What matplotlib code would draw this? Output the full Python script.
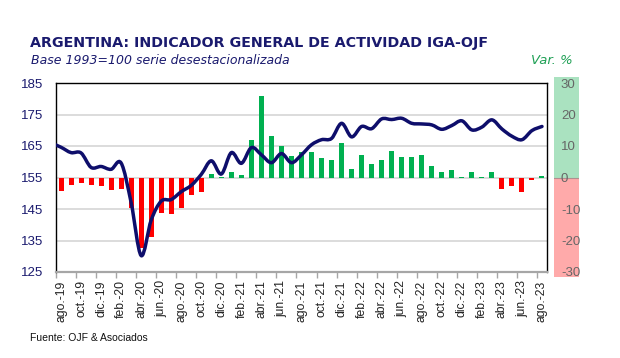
import numpy as np
import matplotlib
matplotlib.use("Agg")
import matplotlib.pyplot as plt
from matplotlib.path import Path
from matplotlib.patches import PathPatch

plt.rcParams['font.family'] = ['Liberation Sans', 'DejaVu Sans']
plt.rcParams['axes.unicode_minus'] = False

# every second month is labelled, ago.-19 .. ago.-23
tick_labels = ["ago.-19", "oct.-19", "dic.-19", "feb.-20", "abr.-20", "jun.-20",
               "ago.-20", "oct.-20", "dic.-20", "feb.-21", "abr.-21", "jun.-21",
               "ago.-21", "oct.-21", "dic.-21", "feb.-22", "abr.-22", "jun.-22",
               "ago.-22", "oct.-22", "dic.-22", "feb.-23", "abr.-23", "jun.-23",
               "ago.-23"]

# IGA-OJF, base 1993=100, s.a. -- jul.-19 .. ago.-23 (jul.-19 only shows at the left edge)
iga = [166.0,
       164.6, 162.9, 162.8, 158.2, 158.5, 157.6, 159.6, 147.0, 130.2, 141.5,
       147.5, 148.0, 150.5, 152.5, 156.0, 160.3, 156.1, 162.9, 159.5, 164.5,
       162.2, 159.7, 162.6, 159.7, 162.2, 165.4, 167.0, 167.4, 172.2, 167.9,
       171.2, 170.5, 173.6, 173.4, 173.8, 172.2, 172.0, 171.7, 170.3, 171.5,
       173.0, 170.1, 171.0, 173.3, 170.4, 168.1, 167.0, 169.9, 171.2]

# var. % interanual, ago.-19 .. ago.-23
var_pct = [-4.4, -2.5, -1.9, -2.3, -2.8, -4.1, -3.8, -9.8, -22.3, -18.9,
           -11.4, -11.7, -9.8, -5.4, -4.7, 1.0, 0.3, 1.9, 0.85, 12.0,
           25.8, 13.2, 10.0, 6.9, 8.2, 8.2, 6.1, 5.6, 10.9, 2.6,
           7.2, 4.3, 5.6, 8.5, 6.4, 6.4, 7.1, 3.8, 1.6, 2.4,
           0.2, 1.7, 0.1, 1.8, -3.5, -2.8, -4.5, -0.7, 0.4]

NAVY = '#1a1a6e'


def smooth_path(x, y):
    # excel style smoothed line: catmull-rom segments as cubic beziers
    n = len(x)
    verts = [(x[0], y[0])]
    codes = [Path.MOVETO]
    for i in range(n - 1):
        xp, yp = (x[i - 1], y[i - 1]) if i > 0 else (x[i], y[i])
        xn, yn = (x[i + 2], y[i + 2]) if i + 2 < n else (x[i + 1], y[i + 1])
        c1 = (x[i] + (x[i + 1] - xp) / 6, y[i] + (y[i + 1] - yp) / 6)
        c2 = (x[i + 1] - (xn - x[i]) / 6, y[i + 1] - (yn - y[i]) / 6)
        verts += [c1, c2, (x[i + 1], y[i + 1])]
        codes += [Path.CURVE4] * 3
    return Path(verts, codes)


W, H = 620, 358
fig = plt.figure(figsize=(W / 100, H / 100), dpi=100)
ax = fig.add_axes([56 / W, 1 - 272 / H, 491 / W, 189 / H])
ax2 = ax.twinx()
band = fig.add_axes([554 / W, 1 - 277 / H, 25 / W, 200 / H])

band.set_zorder(0)
ax2.set_zorder(1)
ax.set_zorder(2)
ax.patch.set_visible(False)

# bars: var. % on the right scale
xb = np.arange(len(var_pct))
colors = ['#00b050' if v >= 0 else '#ff0000' for v in var_pct]
ax2.bar(xb, var_pct, width=0.5, color=colors, zorder=2)
ax2.set_ylim(-30, 30)
ax2.set_yticks(range(-30, 31, 10))
ax2.yaxis.grid(True, color='#d9d9d9', lw=1.3)
ax2.set_axisbelow(True)
ax2.tick_params(axis='y', length=0, pad=10, labelsize=9.5, labelcolor='#666666')
for s in ax2.spines.values():
    s.set_visible(False)

# line: index level on the left scale
xl = np.arange(len(iga)) - 1
ax.add_patch(PathPatch(smooth_path(xl, iga), fill=False, ec='#0e0e6b', lw=2.5,
                       capstyle='round', joinstyle='round', zorder=3))
ax.set_xlim(-0.5, len(var_pct) - 0.5)
ax.set_ylim(125, 185)
ax.set_yticks(range(125, 186, 10))
ax.tick_params(axis='y', length=0, pad=9, labelsize=9.5, labelcolor=NAVY)

ax.set_xticks(np.arange(0, len(var_pct), 2))
ax.set_xticklabels(tick_labels, rotation=90)
ax.set_xticks(np.arange(-0.5, len(var_pct) - 1, 2), minor=True)
ax.tick_params(axis='x', which='major', length=0, pad=6, labelsize=8.7, labelcolor='#222222')
ax.tick_params(axis='x', which='minor', length=4, width=1, color='#a6a6a6')

for side in ['left', 'top', 'right']:
    ax.spines[side].set_color('black')
    ax.spines[side].set_linewidth(1.0)
ax.spines['bottom'].set_color('#a6a6a6')
ax.spines['bottom'].set_linewidth(1.6)

# coloured strip behind the right scale
band.set_xlim(0, 1)
band.set_ylim(-30 - 5 / 3.15, 30 + 6 / 3.15)
band.axhspan(0, 40, color='#aae2c0', lw=0)
band.axhspan(-40, 0, color='#ffaaaa', lw=0)
band.axhline(0, color='#b09090', lw=0.8)
band.axis('off')

fig.text(30 / W, 1 - 43 / H, "ARGENTINA: INDICADOR GENERAL DE ACTIVIDAD IGA-OJF",
         family='DejaVu Sans', fontweight='bold', fontsize=10.3, color=NAVY, va='center')
fig.text(31 / W, 1 - 60 / H, "Base 1993=100 serie desestacionalizada",
         family='DejaVu Sans', style='italic', fontsize=9, color=NAVY, va='center')
fig.text(573 / W, 1 - 60 / H, "Var. %", family='DejaVu Sans', style='italic',
         fontsize=9.5, color='#1fa055', va='center', ha='right')
fig.text(30 / W, 1 - 338 / H, "Fuente: OJF & Asociados", fontsize=7.5,
         color='#111111', va='center')

fig.savefig("out.png", dpi=100)
